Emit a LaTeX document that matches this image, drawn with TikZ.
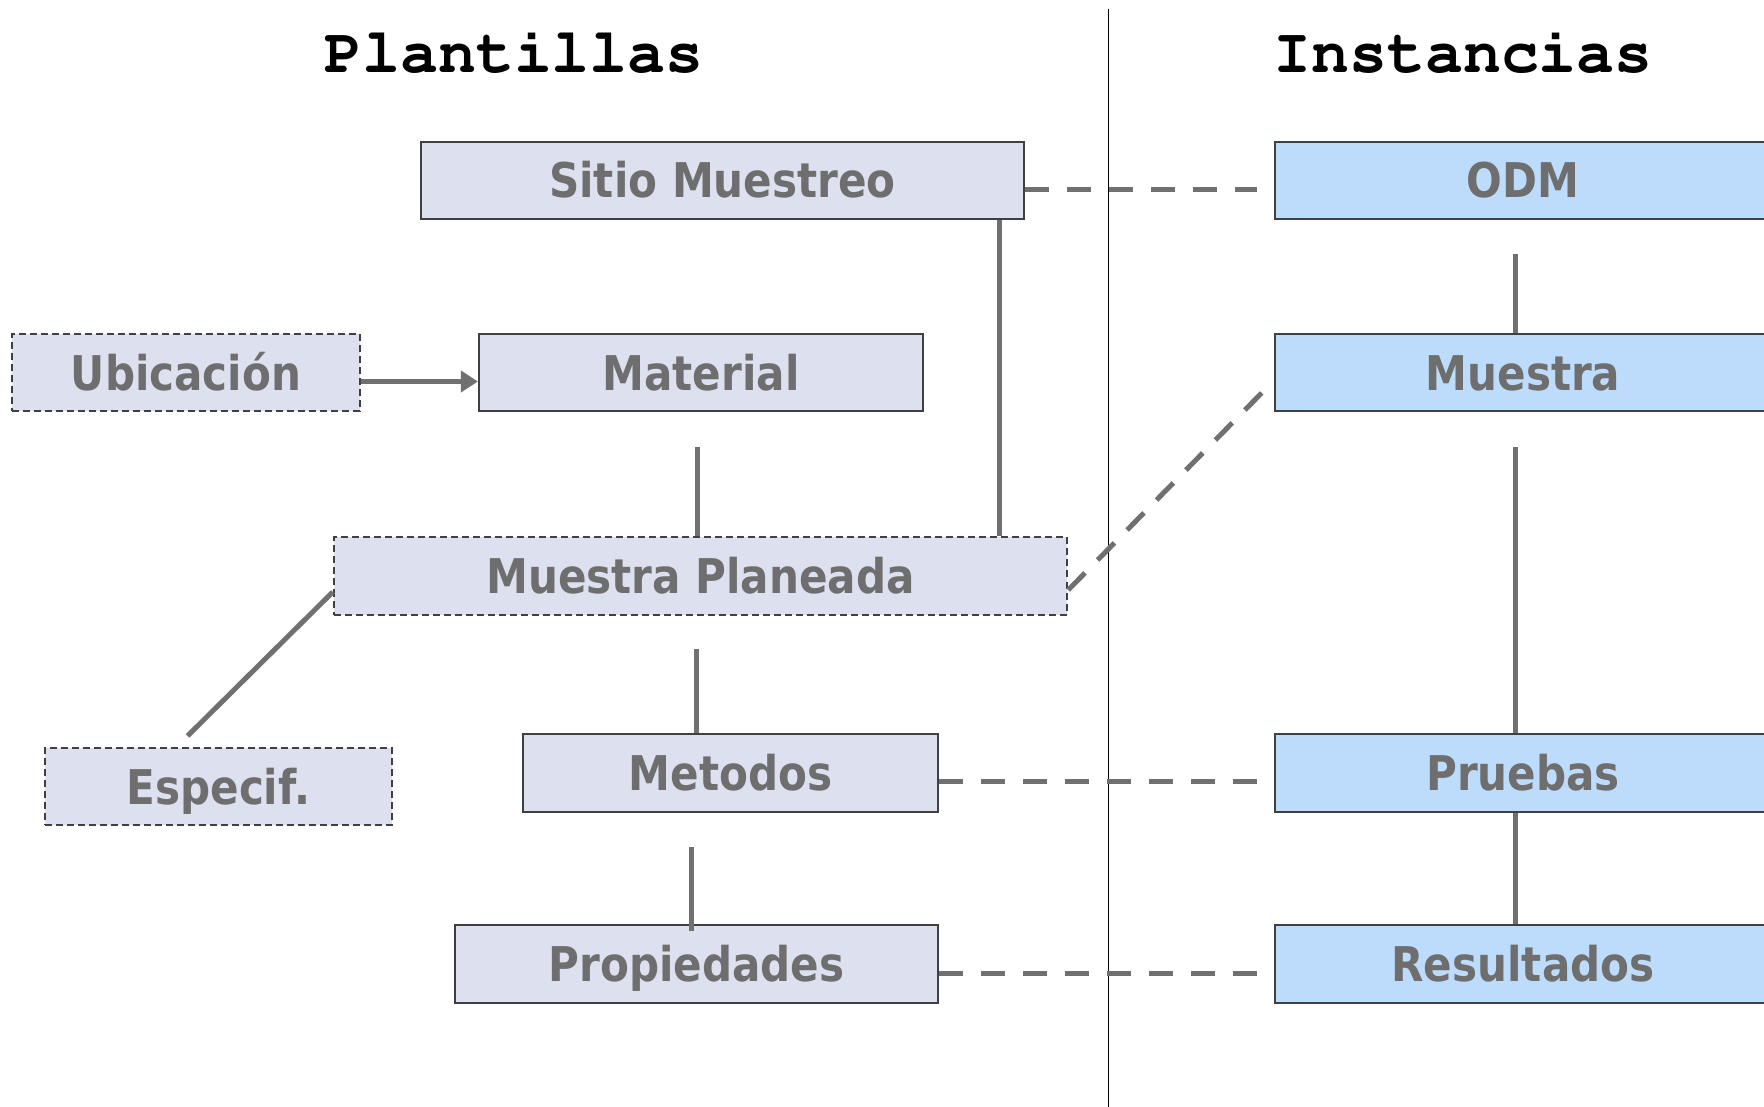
\documentclass[tikz,border=0pt]{standalone}
\usepackage[T1]{fontenc}
\usepackage{fontspec}
\newfontfamily\boxfont{DejaVu Sans}[FakeStretch=0.88]
\newcommand{\titlefont}{\fontencoding{T1}\fontfamily{pcr}\fontseries{b}\selectfont}
\usetikzlibrary{arrows.meta}
\definecolor{tmplfill}{HTML}{DCE0EF}
\definecolor{instfill}{HTML}{BDDBFB}
\definecolor{boxline}{HTML}{404040}
\definecolor{linegray}{HTML}{707070}
\definecolor{txtgray}{HTML}{6E6E6E}

\begin{document}
\begin{tikzpicture}[x=0.01cm,y=-0.01cm,>={Triangle[length=0.17cm,width=0.21cm]}]
  \tikzstyle{tmpl}=[rectangle,draw=boxline,line width=0.02cm,fill=tmplfill,text=txtgray,
                    font=\boxfont\bfseries\fontsize{13.6}{16}\selectfont,
                    minimum height=0.77cm,inner sep=0pt,text height=0.35cm,text depth=0pt]
  \tikzstyle{opt}=[tmpl,dash pattern=on 0.07cm off 0.04cm]
  \tikzstyle{inst}=[tmpl,fill=instfill]
  \tikzstyle{link}=[draw=linegray,line width=0.05cm]
  \tikzstyle{dlink}=[link,dash pattern=on 0.24cm off 0.18cm]
  \tikzstyle{title}=[font=\titlefont\fontsize{18}{20}\selectfont,anchor=base]

  \useasboundingbox (0,0) rectangle (1764,1107);

  \node[title] (plant) at (514,73)  {Plantillas};
  \node[title] (inst)  at (1463,73) {Instancias};
  \draw[black,line width=0.01cm] (1108,9) -- (1108,1107);

  \node[tmpl,minimum width=6.03cm] (sitio) at (722.5,180.5) {Sitio Muestreo};
  \node[inst,minimum width=4.96cm] (odm)   at (1523,180.5)  {ODM};
  \node[opt,minimum width=3.48cm]  (ubic)  at (186,372.5)   {Ubicación};
  \node[tmpl,minimum width=4.44cm] (mat)   at (701,372.5)   {Material};
  \node[inst,minimum width=4.96cm] (mue)   at (1523,372.5)  {Muestra};
  \node[opt,minimum width=7.33cm]  (mp)    at (700.5,576)   {Muestra Planeada};
  \node[opt,minimum width=3.47cm]  (esp)   at (218.5,786.5) {Especif.};
  \node[tmpl,minimum width=4.15cm] (met)   at (730.5,773)   {Metodos};
  \node[inst,minimum width=4.96cm] (pru)   at (1523,773)    {Pruebas};
  \node[tmpl,minimum width=4.83cm] (prop)  at (696.5,964)   {Propiedades};
  \node[inst,minimum width=4.96cm] (res)   at (1523,964)    {Resultados};

  % plantillas
  \draw[link,->] ([yshift=-0.09cm]ubic.east) -- ([yshift=-0.09cm]mat.west);
  \draw[link] ([xshift=2.77cm]sitio.south) -- ([xshift=2.77cm]sitio.south |- mp.north);
  \draw[link,shorten <=0.35cm] ([xshift=-0.04cm]mat.south) -- ([xshift=-0.04cm]mat.south |- mp.north);
  \draw[link] ([yshift=-0.16cm]mp.west) -- ([xshift=-0.31cm,yshift=0.11cm]esp.north);
  \draw[link,shorten <=0.33cm] ([xshift=-0.04cm]mp.south) -- ([xshift=-0.04cm]mp.south |- met.north);
  \draw[link,shorten <=0.34cm,shorten >=-0.07cm] ([xshift=-0.385cm]met.south) -- ([xshift=-0.385cm]met.south |- prop.north);
  % instancias
  \draw[link,shorten <=0.34cm] ([xshift=-0.08cm]odm.south) -- ([xshift=-0.08cm]mue.north);
  \draw[link,shorten <=0.35cm] ([xshift=-0.08cm]mue.south) -- ([xshift=-0.08cm]pru.north);
  \draw[link] ([xshift=-0.08cm]pru.south) -- ([xshift=-0.08cm]res.north);
  % plantilla - instancia
  \draw[dlink,shorten >=0.17cm] ([yshift=-0.09cm]sitio.east) -- ([yshift=-0.09cm]odm.west);
  \draw[dlink] ([yshift=-0.14cm]mp.east) -- ([yshift=-0.08cm]mue.west);
  \draw[dlink,shorten >=0.17cm] ([yshift=-0.08cm]met.east) -- ([yshift=-0.08cm]pru.west);
  \draw[dlink,shorten >=0.17cm] ([yshift=-0.09cm]prop.east) -- ([yshift=-0.09cm]res.west);
\end{tikzpicture}
\end{document}
